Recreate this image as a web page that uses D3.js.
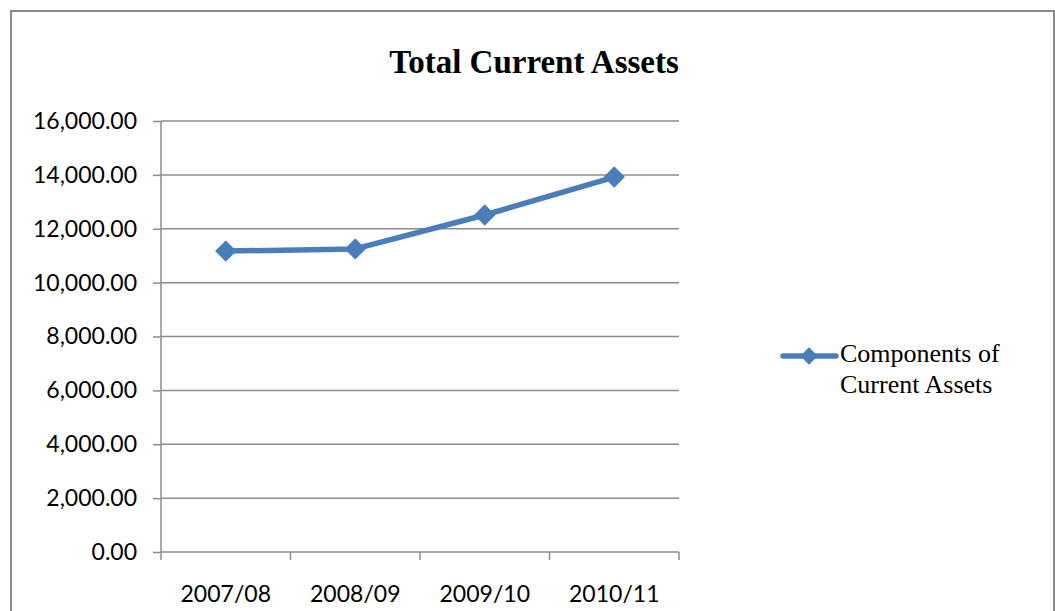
<!DOCTYPE html>
<html lang="en">
<head>
    <meta charset="UTF-8">
    <title>Total Current Assets</title>
    <script src="https://cdn.jsdelivr.net/npm/d3@7"></script>
    <style>
        body { margin: 0; background: #fff; }
        svg { display: block; }
        .grid line { stroke: #8c8c8c; stroke-width: 1.5px; }
        .axis path, .axis line { stroke: #8c8c8c; stroke-width: 1.5px; }
        .axis text { font-family: Lato, "Open Sans", sans-serif; font-size: 23px; fill: #000; }
        .title { font-family: "Liberation Serif", serif; font-weight: bold; font-size: 33px; }
        .legend text { font-family: "Liberation Serif", serif; font-size: 26px; }
    </style>
</head>
<body>
<svg width="1055" height="611"></svg>
<script>
    var categories = ['2007/08', '2008/09', '2009/10', '2010/11'];
    var values = [11170, 11250, 12510, 13920];
    var yTicks = [0, 2000, 4000, 6000, 8000, 10000, 12000, 14000, 16000];
    var seriesName = ['Components of', 'Current Assets'];

    var color = '#4a7ebb';
    var svg = d3.select('svg');

    // chart frame
    svg.append('path')
        .attr('d', 'M11,611V11H1054V611')
        .attr('fill', 'none')
        .attr('stroke', '#8a8a8a')
        .attr('stroke-width', 2);

    svg.append('text')
        .attr('class', 'title')
        .attr('x', 534)
        .attr('y', 73)
        .attr('text-anchor', 'middle')
        .text('Total Current Assets');

    var plotLeft = 161, plotRight = 679, plotTop = 121, plotBottom = 552;

    var x = d3.scaleBand()
        .domain(categories)
        .range([plotLeft, plotRight]);

    var y = d3.scaleLinear()
        .domain([0, 16000])
        .range([plotBottom, plotTop]);

    svg.append('g')
        .attr('class', 'grid')
        .selectAll('line')
        .data(yTicks.slice(1))
        .enter()
        .append('line')
        .attr('x1', plotLeft)
        .attr('x2', plotRight)
        .attr('y1', function (d) { return y(d); })
        .attr('y2', function (d) { return y(d); });

    var yAxis = d3.axisLeft(y)
        .tickValues(yTicks)
        .tickSize(8)
        .tickPadding(16)
        .tickFormat(d3.format(',.2f'));

    svg.append('g')
        .attr('class', 'axis')
        .attr('transform', 'translate(' + plotLeft + ',0)')
        .call(yAxis)
        .call(function (g) { g.select('.domain').attr('d', 'M0,' + plotTop + 'V' + plotBottom); });

    var xAxis = d3.axisBottom(x)
        .tickSize(0)
        .tickPadding(34);

    var xg = svg.append('g')
        .attr('class', 'axis')
        .attr('transform', 'translate(0,' + plotBottom + ')')
        .call(xAxis);
    xg.select('.domain').attr('d', 'M' + plotLeft + ',0H' + plotRight);

    // category boundary ticks
    xg.selectAll('.bound')
        .data(d3.range(categories.length + 1))
        .enter()
        .append('line')
        .attr('class', 'bound')
        .attr('x1', function (i) { return plotLeft + i * x.step(); })
        .attr('x2', function (i) { return plotLeft + i * x.step(); })
        .attr('y1', 0)
        .attr('y2', 8);

    var line = d3.line()
        .x(function (d, i) { return x(categories[i]) + x.bandwidth() / 2; })
        .y(function (d) { return y(d); });

    svg.append('path')
        .datum(values)
        .attr('d', line)
        .attr('fill', 'none')
        .attr('stroke', color)
        .attr('stroke-width', 5.5)
        .attr('stroke-linejoin', 'round');

    var diamond = d3.symbol().type(d3.symbolDiamond2).size(290);

    svg.selectAll('.marker')
        .data(values)
        .enter()
        .append('path')
        .attr('class', 'marker')
        .attr('d', diamond)
        .attr('fill', color)
        .attr('transform', function (d, i) {
            return 'translate(' + (x(categories[i]) + x.bandwidth() / 2) + ',' + y(d) + ')';
        });

    // legend
    var legend = svg.append('g').attr('class', 'legend');
    legend.append('line')
        .attr('x1', 783).attr('x2', 836)
        .attr('y1', 356).attr('y2', 356)
        .attr('stroke', color)
        .attr('stroke-width', 5.5)
        .attr('stroke-linecap', 'round');
    legend.append('path')
        .attr('d', d3.symbol().type(d3.symbolDiamond2).size(200))
        .attr('fill', color)
        .attr('transform', 'translate(809,356)');
    legend.selectAll('text')
        .data(seriesName)
        .enter()
        .append('text')
        .attr('x', 840)
        .attr('y', function (d, i) { return 362 + i * 31; })
        .text(function (d) { return d; });
</script>
</body>
</html>
